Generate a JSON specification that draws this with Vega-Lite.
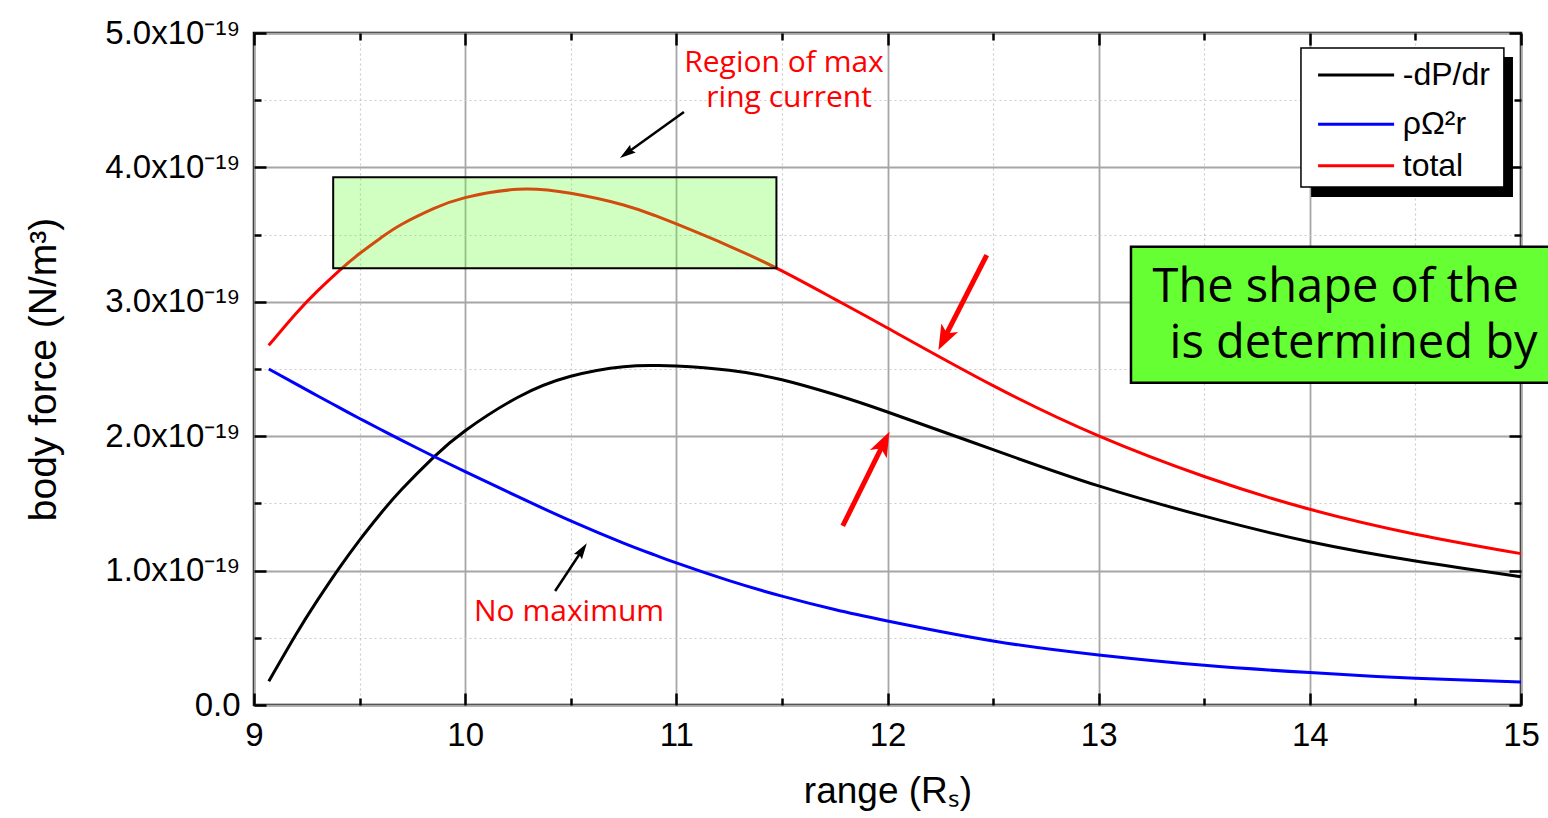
{
  "$schema": "https://vega.github.io/schema/vega-lite/v6.json",
  "width": 1267,
  "height": 672,
  "autosize": {"type": "none"},
  "padding": {"left": 254, "top": 33, "right": 27, "bottom": 113},
  "background": "white",
  "config": {
    "view": {"stroke": "black", "strokeWidth": 2.5, "fill": "white"},
    "axis": {
      "domain": false,
      "tickColor": "black",
      "tickWidth": 2.5,
      "labelFont": "Liberation Sans",
      "labelFontSize": 33,
      "labelColor": "black",
      "titleFont": "Liberation Sans",
      "titleFontWeight": "normal",
      "titleColor": "black",
      "labelFlush": false,
      "labelOverlap": false
    }
  },
  "datasets": {
    "curves": [
      {"x": 9.07, "y": 0.176e-19, "series": "-dP/dr"},
      {"x": 9.2, "y": 0.528e-19, "series": "-dP/dr"},
      {"x": 9.3, "y": 0.778e-19, "series": "-dP/dr"},
      {"x": 9.4, "y": 1.011e-19, "series": "-dP/dr"},
      {"x": 9.5, "y": 1.227e-19, "series": "-dP/dr"},
      {"x": 9.6, "y": 1.425e-19, "series": "-dP/dr"},
      {"x": 9.7, "y": 1.605e-19, "series": "-dP/dr"},
      {"x": 9.85, "y": 1.843e-19, "series": "-dP/dr"},
      {"x": 10, "y": 2.041e-19, "series": "-dP/dr"},
      {"x": 10.25, "y": 2.29e-19, "series": "-dP/dr"},
      {"x": 10.5, "y": 2.446e-19, "series": "-dP/dr"},
      {"x": 10.75, "y": 2.517e-19, "series": "-dP/dr"},
      {"x": 10.9, "y": 2.526e-19, "series": "-dP/dr"},
      {"x": 11, "y": 2.522e-19, "series": "-dP/dr"},
      {"x": 11.25, "y": 2.49e-19, "series": "-dP/dr"},
      {"x": 11.5, "y": 2.42e-19, "series": "-dP/dr"},
      {"x": 11.75, "y": 2.31e-19, "series": "-dP/dr"},
      {"x": 12, "y": 2.18e-19, "series": "-dP/dr"},
      {"x": 12.5, "y": 1.90e-19, "series": "-dP/dr"},
      {"x": 13, "y": 1.63e-19, "series": "-dP/dr"},
      {"x": 13.5, "y": 1.405e-19, "series": "-dP/dr"},
      {"x": 14, "y": 1.215e-19, "series": "-dP/dr"},
      {"x": 14.5, "y": 1.072e-19, "series": "-dP/dr"},
      {"x": 15, "y": 0.955e-19, "series": "-dP/dr"},
      {"x": 9.07, "y": 2.50e-19, "series": "ρΩ²r"},
      {"x": 9.2, "y": 2.387e-19, "series": "ρΩ²r"},
      {"x": 9.3, "y": 2.301e-19, "series": "ρΩ²r"},
      {"x": 9.4, "y": 2.216e-19, "series": "ρΩ²r"},
      {"x": 9.5, "y": 2.132e-19, "series": "ρΩ²r"},
      {"x": 9.6, "y": 2.05e-19, "series": "ρΩ²r"},
      {"x": 9.7, "y": 1.969e-19, "series": "ρΩ²r"},
      {"x": 9.85, "y": 1.851e-19, "series": "ρΩ²r"},
      {"x": 10, "y": 1.737e-19, "series": "ρΩ²r"},
      {"x": 10.25, "y": 1.55e-19, "series": "ρΩ²r"},
      {"x": 10.5, "y": 1.37e-19, "series": "ρΩ²r"},
      {"x": 10.75, "y": 1.205e-19, "series": "ρΩ²r"},
      {"x": 10.9, "y": 1.115e-19, "series": "ρΩ²r"},
      {"x": 11, "y": 1.057e-19, "series": "ρΩ²r"},
      {"x": 11.25, "y": 0.925e-19, "series": "ρΩ²r"},
      {"x": 11.5, "y": 0.81e-19, "series": "ρΩ²r"},
      {"x": 11.75, "y": 0.71e-19, "series": "ρΩ²r"},
      {"x": 12, "y": 0.625e-19, "series": "ρΩ²r"},
      {"x": 12.5, "y": 0.476e-19, "series": "ρΩ²r"},
      {"x": 13, "y": 0.372e-19, "series": "ρΩ²r"},
      {"x": 13.5, "y": 0.295e-19, "series": "ρΩ²r"},
      {"x": 14, "y": 0.241e-19, "series": "ρΩ²r"},
      {"x": 14.5, "y": 0.199e-19, "series": "ρΩ²r"},
      {"x": 15, "y": 0.171e-19, "series": "ρΩ²r"},
      {"x": 9.07, "y": 2.676e-19, "series": "total"},
      {"x": 9.2, "y": 2.915e-19, "series": "total"},
      {"x": 9.3, "y": 3.079e-19, "series": "total"},
      {"x": 9.4, "y": 3.227e-19, "series": "total"},
      {"x": 9.5, "y": 3.359e-19, "series": "total"},
      {"x": 9.6, "y": 3.475e-19, "series": "total"},
      {"x": 9.7, "y": 3.577e-19, "series": "total"},
      {"x": 9.85, "y": 3.693e-19, "series": "total"},
      {"x": 10, "y": 3.775e-19, "series": "total"},
      {"x": 10.25, "y": 3.837e-19, "series": "total"},
      {"x": 10.5, "y": 3.807e-19, "series": "total"},
      {"x": 10.75, "y": 3.72e-19, "series": "total"},
      {"x": 10.9, "y": 3.641e-19, "series": "total"},
      {"x": 11, "y": 3.579e-19, "series": "total"},
      {"x": 11.25, "y": 3.415e-19, "series": "total"},
      {"x": 11.5, "y": 3.23e-19, "series": "total"},
      {"x": 11.75, "y": 3.02e-19, "series": "total"},
      {"x": 12, "y": 2.805e-19, "series": "total"},
      {"x": 12.5, "y": 2.376e-19, "series": "total"},
      {"x": 13, "y": 2.002e-19, "series": "total"},
      {"x": 13.5, "y": 1.70e-19, "series": "total"},
      {"x": 14, "y": 1.456e-19, "series": "total"},
      {"x": 14.5, "y": 1.271e-19, "series": "total"},
      {"x": 15, "y": 1.126e-19, "series": "total"}
    ],
    "blackArrows": [
      {"x": 11.036, "y": 4.412e-19, "x2": 10.756, "y2": 4.096e-19, "tx": 10.733, "ty": 4.070e-19, "angle": 234.3},
      {"x": 10.426, "y": 0.848e-19, "x2": 10.560, "y2": 1.166e-19, "tx": 10.576, "ty": 1.203e-19, "angle": 33.6}
    ],
    "redArrows": [
      {"x": 12.470, "y": 3.348e-19, "x2": 12.262, "y2": 2.708e-19, "tx": 12.241, "ty": 2.641e-19, "angle": 207.0},
      {"x": 11.788, "y": 1.332e-19, "x2": 11.988, "y2": 1.967e-19, "tx": 12.009, "ty": 2.034e-19, "angle": 26.3}
    ],
    "redNotes": [
      {"x": 11.510, "y": 4.712e-19, "text": "Region of max"},
      {"x": 11.534, "y": 4.452e-19, "text": "ring current"},
      {"x": 10.492, "y": 0.627e-19, "text": "No maximum"}
    ],
    "boxNotes": [
      {"x": 13.255, "y": 3.001e-19, "text": "The shape of the"},
      {"x": 13.336, "y": 2.580e-19, "text": "is determined by"}
    ],
    "legendRows": [
      {"series": "-dP/dr", "x": 14.039, "x2": 14.399, "lx": 14.44, "y": 4.688e-19},
      {"series": "ρΩ²r", "x": 14.039, "x2": 14.399, "lx": 14.44, "y": 4.321e-19},
      {"series": "total", "x": 14.039, "x2": 14.399, "lx": 14.44, "y": 4.013e-19}
    ]
  },
  "layer": [
    {
      "data": {"name": "curves"},
      "mark": {"type": "line", "strokeWidth": 3, "interpolate": "natural"},
      "encoding": {
        "x": {
          "field": "x", "type": "quantitative",
          "scale": {"domain": [9, 15], "nice": false, "zero": false},
          "axis": {
            "orient": "bottom",
            "values": [9, 9.5, 10, 10.5, 11, 11.5, 12, 12.5, 13, 13.5, 14, 14.5, 15],
            "labelExpr": "datum.value % 1 === 0 ? format(datum.value, 'd') : ''",
            "labelPadding": 26,
            "tickSize": {"condition": {"test": "datum.value % 1 !== 0", "value": -7}, "value": -12},
            "grid": true,
            "gridColor": {"condition": {"test": "datum.value % 1 !== 0", "value": "#cccccc"}, "value": "#a6a6a6"},
            "gridDash": {"condition": {"test": "datum.value % 1 !== 0", "value": [2, 3]}, "value": []},
            "gridWidth": {"condition": {"test": "datum.value % 1 !== 0", "value": 1.2}, "value": 1.8},
            "title": "range (Rₛ)",
            "titleFontSize": 37,
            "titlePadding": 16
          }
        },
        "y": {
          "field": "y", "type": "quantitative",
          "scale": {"domain": [0, 5e-19], "nice": false, "zero": false},
          "axis": {
            "orient": "left",
            "values": [0, 5e-20, 1e-19, 1.5e-19, 2e-19, 2.5e-19, 3e-19, 3.5e-19, 4e-19, 4.5e-19, 5e-19],
            "labelExpr": "round(datum.value*2e19) % 2 === 1 ? '' : (round(datum.value*1e19) === 0 ? '0.0' : format(datum.value*1e19, '.1f') + 'x10⁻¹⁹')",
            "labelPadding": 26,
            "tickSize": {"condition": {"test": "round(datum.value*2e19) % 2 === 1", "value": -7}, "value": -12},
            "grid": true,
            "gridColor": {"condition": {"test": "round(datum.value*2e19) % 2 === 1", "value": "#cccccc"}, "value": "#a6a6a6"},
            "gridDash": {"condition": {"test": "round(datum.value*2e19) % 2 === 1", "value": [2, 3]}, "value": []},
            "gridWidth": {"condition": {"test": "round(datum.value*2e19) % 2 === 1", "value": 1.2}, "value": 1.8},
            "title": "body force (N/m³)",
            "titleFontSize": 39,
            "titlePadding": 41
          }
        },
        "color": {
          "field": "series", "type": "nominal",
          "scale": {"domain": ["-dP/dr", "ρΩ²r", "total"], "range": ["#000000", "#0000ff", "#ff0000"]},
          "legend": null
        }
      }
    },
    {
      "data": {"values": [{"x": 9.375, "x2": 11.474, "y": 3.249e-19, "y2": 3.926e-19}]},
      "mark": {"type": "rect", "fill": "#66ff33", "fillOpacity": 0.3, "stroke": "#000000", "strokeWidth": 2},
      "encoding": {
        "x": {
          "field": "x", "type": "quantitative",
          "scale": {"domain": [9, 15], "nice": false, "zero": false},
          "axis": {
            "orient": "top",
            "values": [9, 9.5, 10, 10.5, 11, 11.5, 12, 12.5, 13, 13.5, 14, 14.5, 15],
            "labels": false, "grid": false, "title": null,
            "tickSize": {"condition": {"test": "datum.value % 1 !== 0", "value": -7}, "value": -12}
          }
        },
        "x2": {"field": "x2"},
        "y": {
          "field": "y", "type": "quantitative",
          "scale": {"domain": [0, 5e-19], "nice": false, "zero": false},
          "axis": {
            "orient": "right",
            "values": [0, 5e-20, 1e-19, 1.5e-19, 2e-19, 2.5e-19, 3e-19, 3.5e-19, 4e-19, 4.5e-19, 5e-19],
            "labels": false, "grid": false, "title": null,
            "tickSize": {"condition": {"test": "round(datum.value*2e19) % 2 === 1", "value": -7}, "value": -12}
          }
        },
        "y2": {"field": "y2"}
      }
    },
    {
      "data": {"name": "blackArrows"},
      "mark": {"type": "rule", "stroke": "#000000", "strokeWidth": 2.5},
      "encoding": {
        "x": {"field": "x", "type": "quantitative", "scale": {"domain": [9, 15], "nice": false, "zero": false}, "axis": null},
        "y": {"field": "y", "type": "quantitative", "scale": {"domain": [0, 5e-19], "nice": false, "zero": false}, "axis": null},
        "x2": {"field": "x2"},
        "y2": {"field": "y2"}
      }
    },
    {
      "data": {"name": "blackArrows"},
      "mark": {"type": "point", "shape": "M0,0L0.6,2L0,1.7L-0.6,2Z", "filled": true, "fill": "#000000", "stroke": null, "opacity": 1, "size": 256},
      "encoding": {
        "x": {"field": "tx", "type": "quantitative", "scale": {"domain": [9, 15], "nice": false, "zero": false}, "axis": null},
        "y": {"field": "ty", "type": "quantitative", "scale": {"domain": [0, 5e-19], "nice": false, "zero": false}, "axis": null},
        "angle": {"field": "angle", "type": "quantitative", "scale": null}
      }
    },
    {
      "data": {"name": "redArrows"},
      "mark": {"type": "rule", "stroke": "#ff0000", "strokeWidth": 5},
      "encoding": {
        "x": {"field": "x", "type": "quantitative", "scale": {"domain": [9, 15], "nice": false, "zero": false}, "axis": null},
        "y": {"field": "y", "type": "quantitative", "scale": {"domain": [0, 5e-19], "nice": false, "zero": false}, "axis": null},
        "x2": {"field": "x2"},
        "y2": {"field": "y2"}
      }
    },
    {
      "data": {"name": "redArrows"},
      "mark": {"type": "point", "shape": "M0,0L0.75,2L0,1.5L-0.75,2Z", "filled": true, "fill": "#ff0000", "stroke": null, "opacity": 1, "size": 625},
      "encoding": {
        "x": {"field": "tx", "type": "quantitative", "scale": {"domain": [9, 15], "nice": false, "zero": false}, "axis": null},
        "y": {"field": "ty", "type": "quantitative", "scale": {"domain": [0, 5e-19], "nice": false, "zero": false}, "axis": null},
        "angle": {"field": "angle", "type": "quantitative", "scale": null}
      }
    },
    {
      "data": {"name": "redNotes"},
      "mark": {"type": "text", "font": "Open Sans", "fontSize": 30, "fill": "#ff0000", "align": "center", "baseline": "alphabetic"},
      "encoding": {
        "x": {"field": "x", "type": "quantitative", "scale": {"domain": [9, 15], "nice": false, "zero": false}, "axis": null},
        "y": {"field": "y", "type": "quantitative", "scale": {"domain": [0, 5e-19], "nice": false, "zero": false}, "axis": null},
        "text": {"field": "text"}
      }
    },
    {
      "data": {"values": [{"x": 14.006, "x2": 14.962, "y": 3.780e-19, "y2": 4.821e-19}]},
      "mark": {"type": "rect", "fill": "#000000"},
      "encoding": {
        "x": {"field": "x", "type": "quantitative", "scale": {"domain": [9, 15], "nice": false, "zero": false}, "axis": null},
        "x2": {"field": "x2"},
        "y": {"field": "y", "type": "quantitative", "scale": {"domain": [0, 5e-19], "nice": false, "zero": false}, "axis": null},
        "y2": {"field": "y2"}
      }
    },
    {
      "data": {"values": [{"x": 13.958, "x2": 14.919, "y": 3.854e-19, "y2": 4.888e-19}]},
      "mark": {"type": "rect", "fill": "#ffffff", "stroke": "#000000", "strokeWidth": 1.5},
      "encoding": {
        "x": {"field": "x", "type": "quantitative", "scale": {"domain": [9, 15], "nice": false, "zero": false}, "axis": null},
        "x2": {"field": "x2"},
        "y": {"field": "y", "type": "quantitative", "scale": {"domain": [0, 5e-19], "nice": false, "zero": false}, "axis": null},
        "y2": {"field": "y2"}
      }
    },
    {
      "data": {"name": "legendRows"},
      "mark": {"type": "rule", "strokeWidth": 3},
      "encoding": {
        "x": {"field": "x", "type": "quantitative", "scale": {"domain": [9, 15], "nice": false, "zero": false}, "axis": null},
        "x2": {"field": "x2"},
        "y": {"field": "y", "type": "quantitative", "scale": {"domain": [0, 5e-19], "nice": false, "zero": false}, "axis": null},
        "color": {"field": "series", "type": "nominal", "legend": null}
      }
    },
    {
      "data": {"name": "legendRows"},
      "mark": {"type": "text", "font": "Liberation Sans", "fontSize": 32, "fill": "#000000", "align": "left", "baseline": "middle"},
      "encoding": {
        "x": {"field": "lx", "type": "quantitative", "scale": {"domain": [9, 15], "nice": false, "zero": false}, "axis": null},
        "y": {"field": "y", "type": "quantitative", "scale": {"domain": [0, 5e-19], "nice": false, "zero": false}, "axis": null},
        "text": {"field": "series"}
      }
    },
    {
      "data": {"values": [{"x": 13.153, "x2": 15.2, "y": 2.398e-19, "y2": 3.410e-19}]},
      "mark": {"type": "rect", "fill": "#66ff33", "stroke": "#000000", "strokeWidth": 2.5, "clip": false},
      "encoding": {
        "x": {"field": "x", "type": "quantitative", "scale": {"domain": [9, 15], "nice": false, "zero": false}, "axis": null},
        "x2": {"field": "x2"},
        "y": {"field": "y", "type": "quantitative", "scale": {"domain": [0, 5e-19], "nice": false, "zero": false}, "axis": null},
        "y2": {"field": "y2"}
      }
    },
    {
      "data": {"name": "boxNotes"},
      "mark": {"type": "text", "font": "Open Sans", "fontSize": 47, "fill": "#000000", "align": "left", "baseline": "alphabetic"},
      "encoding": {
        "x": {"field": "x", "type": "quantitative", "scale": {"domain": [9, 15], "nice": false, "zero": false}, "axis": null},
        "y": {"field": "y", "type": "quantitative", "scale": {"domain": [0, 5e-19], "nice": false, "zero": false}, "axis": null},
        "text": {"field": "text"}
      }
    }
  ],
  "resolve": {"axis": {"x": "independent", "y": "independent"}}
}
